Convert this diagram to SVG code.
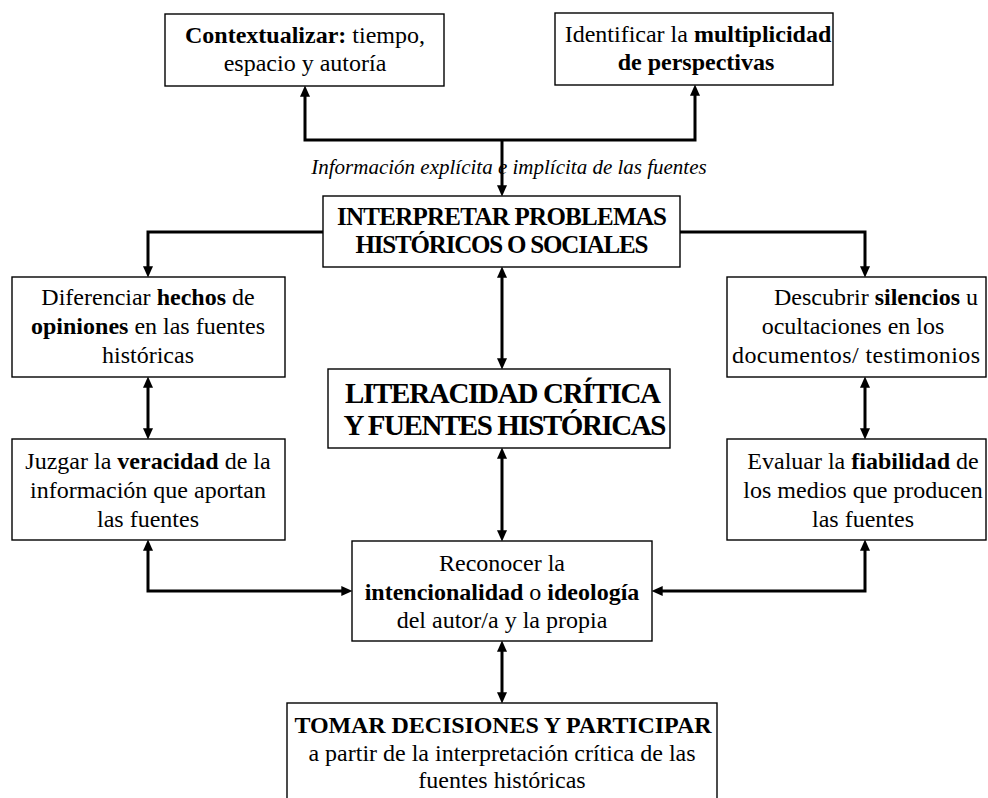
<svg xmlns="http://www.w3.org/2000/svg" width="988" height="798" viewBox="0 0 988 798">
<style>
text{font-family:"Liberation Serif","Times New Roman",serif;font-size:24px;fill:#000;text-anchor:middle}
.b{font-weight:bold}
.box{fill:#fff;stroke:#000;stroke-width:1.4}
.c{fill:none;stroke:#000;stroke-width:3}
.t{font-weight:bold;font-size:25px}
.L{font-weight:bold;font-size:29px}
.i{font-style:italic;font-size:21px}
</style>
<defs>
<marker id="a" markerUnits="userSpaceOnUse" markerWidth="12" markerHeight="10" viewBox="0 0 10 9" refX="6" refY="4.5" orient="auto-start-reverse">
<path d="M0,0 L10,4.5 L0,9 z" fill="#000"/>
</marker>
</defs>
<rect width="988" height="798" fill="#fff"/>
<g id="connectors">
<path class="c" d="M502,140 H305 V90" marker-end="url(#a)"/>
<path class="c" d="M502,140 H695 V89" marker-end="url(#a)"/>
<path class="c" d="M502,140 V192" marker-end="url(#a)"/>
<path class="c" d="M323,232 H148 V273" marker-end="url(#a)"/>
<path class="c" d="M680,232 H865 V273" marker-end="url(#a)"/>
<path class="c" d="M502,271 V365" marker-start="url(#a)" marker-end="url(#a)"/>
<path class="c" d="M148,381 V435" marker-start="url(#a)" marker-end="url(#a)"/>
<path class="c" d="M865,381 V435" marker-start="url(#a)" marker-end="url(#a)"/>
<path class="c" d="M502,452 V537" marker-start="url(#a)" marker-end="url(#a)"/>
<path class="c" d="M148,544 V591 H348" marker-start="url(#a)" marker-end="url(#a)"/>
<path class="c" d="M865,544 V591 H656" marker-start="url(#a)" marker-end="url(#a)"/>
<path class="c" d="M502,645 V699" marker-start="url(#a)" marker-end="url(#a)"/>
</g>
<text class="i" x="509" y="174">Información explícita e implícita de las fuentes</text>
<g id="contextualizar">
<rect class="box" x="165" y="14" width="279" height="72"/>
<text x="305" y="43"><tspan class="b">Contextualizar:</tspan> tiempo,</text>
<text x="305" y="71">espacio y autoría</text>
</g>
<g id="multiplicidad">
<rect class="box" x="555" y="13" width="278" height="72"/>
<text x="698" y="42">Identificar la <tspan class="b">multiplicidad</tspan></text>
<text x="696" y="70" class="b">de perspectivas</text>
</g>
<g id="interpretar">
<rect class="box" x="323" y="196" width="357" height="71"/>
<text class="t" x="502" y="225" textLength="330">INTERPRETAR PROBLEMAS</text>
<text class="t" x="502" y="253" textLength="293">HISTÓRICOS O SOCIALES</text>
</g>
<g id="diferenciar">
<rect class="box" x="12" y="277" width="273" height="100"/>
<text x="148" y="305">Diferenciar <tspan class="b">hechos</tspan> de</text>
<text x="148" y="334"><tspan class="b">opiniones</tspan> en las fuentes</text>
<text x="148" y="363">históricas</text>
</g>
<g id="descubrir">
<rect class="box" x="727" y="277" width="259" height="100"/>
<text x="876" y="305">Descubrir <tspan class="b">silencios</tspan> u</text>
<text x="853" y="334">ocultaciones en los</text>
<text x="856" y="363" textLength="248">documentos/ testimonios</text>
</g>
<g id="literacidad">
<rect class="box" x="328" y="369" width="342" height="79"/>
<text class="L" x="503" y="403" textLength="316">LITERACIDAD CRÍTICA</text>
<text class="L" x="505" y="435" textLength="323">Y FUENTES HISTÓRICAS</text>
</g>
<g id="juzgar">
<rect class="box" x="12" y="439" width="273" height="101"/>
<text x="148" y="469">Juzgar la <tspan class="b">veracidad</tspan> de la</text>
<text x="148" y="498">información que aportan</text>
<text x="148" y="527">las fuentes</text>
</g>
<g id="evaluar">
<rect class="box" x="727" y="439" width="259" height="101"/>
<text x="863" y="469">Evaluar la <tspan class="b">fiabilidad</tspan> de</text>
<text x="863" y="498">los medios que producen</text>
<text x="863" y="527">las fuentes</text>
</g>
<g id="reconocer">
<rect class="box" x="352" y="541" width="300" height="100"/>
<text x="502" y="571">Reconocer la</text>
<text x="502" y="600"><tspan class="b">intencionalidad</tspan> o <tspan class="b">ideología</tspan></text>
<text x="502" y="628">del autor/a y la propia</text>
</g>
<g id="tomar">
<rect class="box" x="287" y="703" width="430" height="110"/>
<text class="b" x="503" y="733" font-size="26" textLength="417">TOMAR DECISIONES Y PARTICIPAR</text>
<text x="502" y="761">a partir de la interpretación crítica de las</text>
<text x="502" y="788">fuentes históricas</text>
</g>
</svg>
